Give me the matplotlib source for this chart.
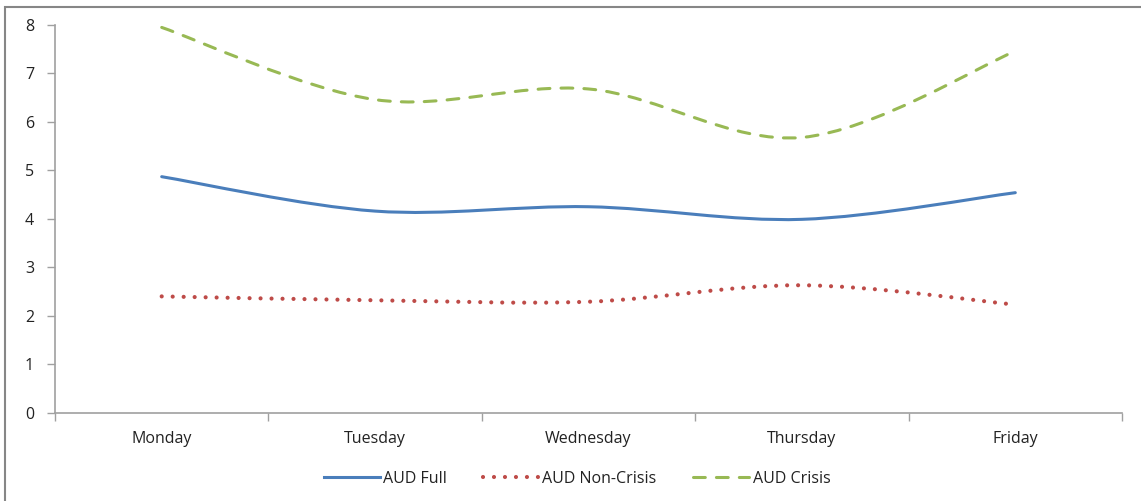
import numpy as np
import matplotlib
matplotlib.use('Agg')
from matplotlib import pyplot as plt
from matplotlib.path import Path
from matplotlib.patches import PathPatch, Rectangle
from matplotlib.lines import Line2D

plt.rcParams['font.family'] = ['Open Sans', 'DejaVu Sans']
plt.rcParams['lines.scale_dashes'] = False

days = ['Monday', 'Tuesday', 'Wednesday', 'Thursday', 'Friday']
aud_full = [4.87, 4.16, 4.25, 3.99, 4.54]
aud_non_crisis = [2.40, 2.32, 2.29, 2.63, 2.23]
aud_crisis = [7.95, 6.46, 6.68, 5.68, 7.46]


def smooth_path(xs, ys):
    # excel-style smoothed line: bezier segments, catmull-rom control points
    pts = np.column_stack([xs, ys]).astype(float)
    ext = np.vstack([pts[0], pts, pts[-1]])
    verts = [pts[0]]
    codes = [Path.MOVETO]
    for i in range(len(pts) - 1):
        p0, p1, p2, p3 = ext[i], ext[i + 1], ext[i + 2], ext[i + 3]
        verts += [p1 + (p2 - p0) / 6, p2 - (p3 - p1) / 6, p2]
        codes += [Path.CURVE4] * 3
    return Path(verts, codes)


fig = plt.figure(figsize=(11.41, 5.01), dpi=100)
ax = fig.add_axes([55 / 1141, 1 - 412.7 / 501, (1122 - 55) / 1141, (412.7 - 25) / 501])

x = np.arange(len(days))
series = [
    ('AUD Full', aud_full, dict(color='#4A7EBB', lw=2.2, linestyle='-')),
    ('AUD Non-Crisis', aud_non_crisis, dict(color='#BE4B48', lw=3.0, linestyle=(0, (0.01, 7.9)))),
    ('AUD Crisis', aud_crisis, dict(color='#98B954', lw=2.2, linestyle=(0, (8.5, 8)))),
]
handles = []
for name, vals, st in series:
    patch = PathPatch(smooth_path(x, vals), fill=False, edgecolor=st['color'], lw=st['lw'],
                      linestyle=st['linestyle'], capstyle='round', joinstyle='round')
    ax.add_patch(patch)
    handles.append(Line2D([], [], color=st['color'], lw=st['lw'], linestyle=st['linestyle'],
                          dash_capstyle='round', label=name))

ax.set_xlim(-0.5, len(days) - 0.5)
ax.set_ylim(0, 8)
ax.set_yticks(range(0, 9))
ax.set_xticks(np.arange(-0.5, len(days)), [''] * (len(days) + 1))
ax.set_xticks(x, days, minor=True)

grey = '#A0A0A0'
for s in ['top', 'right']:
    ax.spines[s].set_visible(False)
for s in ['left', 'bottom']:
    ax.spines[s].set_color(grey)
    ax.spines[s].set_linewidth(1.2)
ax.tick_params(axis='y', length=6, width=1, color=grey, labelsize=11.5, pad=9, labelcolor='#222222')
ax.tick_params(axis='x', which='major', length=6, width=1, color=grey)
ax.tick_params(axis='x', which='minor', length=0, labelsize=11.5, pad=13, labelcolor='#222222')

fig.legend(handles=handles, loc='center', bbox_to_anchor=(577 / 1141, 1 - 479 / 501),
           ncol=3, frameon=False, fontsize=11.5, handlelength=3.5, handletextpad=0.2,
           columnspacing=2.3, labelcolor='#222222')

fig.add_artist(Rectangle((5 / 1141, -0.1), 1.1, 1.1 - 7 / 501, transform=fig.transFigure,
                         fill=False, edgecolor='#868686', lw=1.5))

fig.savefig('out.png', dpi=100)
